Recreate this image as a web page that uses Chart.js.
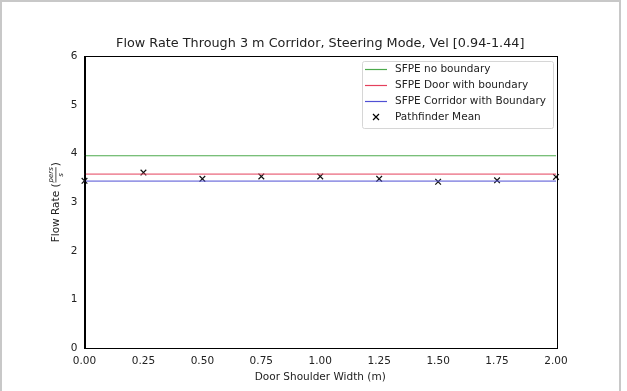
<!DOCTYPE html>
<html>
<head>
<meta charset="utf-8">
<script src="https://cdn.jsdelivr.net/npm/chart.js@4"></script>
<style>
  html, body { margin: 0; padding: 0; background: #fff; }
  #frame { position: absolute; left: 0; top: 0; width: 617px; height: 400px; border: 2px solid #c8c8c8; }
  canvas { position: absolute; left: 0; top: 0; }
</style>
</head>
<body>
<div id="frame"></div>
<canvas id="flowChart" width="627" height="391"></canvas>
<script>
// shoulder widths (m) and measured Pathfinder means (pers/s)
const shoulderWidths = [0.00, 0.25, 0.50, 0.75, 1.00, 1.25, 1.50, 1.75, 2.00];
const pathfinderMean = [3.44, 3.61, 3.48, 3.53, 3.53, 3.48, 3.42, 3.45, 3.52];

// SFPE reference flow rates (constant over the range)
const sfpeNoBoundary = 3.955;
const sfpeDoorBoundary = 3.578;
const sfpeCorridorBoundary = 3.434;

const lineColors = ['#4caa4c', '#e4405c', '#5050d4'];

const xRange = [0, 2];
const yTicks = [0, 1, 2, 3, 4, 5, 6];

const FONT = "'DejaVu Sans', sans-serif";

function flatLine(v) {
    return xRange.map(x => ({ x: x, y: v }));
}

// frame, legend and y label drawn matplotlib style
const legendPlugin = {
    id: 'boxLegend',
    afterDraw(chart) {
        const ctx = chart.ctx;
        const area = chart.chartArea;
        ctx.save();
        // full box round the plot
        ctx.strokeStyle = '#000';
        ctx.lineWidth = 1;
        ctx.strokeRect(Math.round(area.left) + 0.5, Math.round(area.top) + 0.5,
            Math.round(area.right - area.left), Math.round(area.bottom - area.top));

        const bx = 362, by = 61, bw = 191, bh = 67;
        ctx.fillStyle = 'rgba(255,255,255,0.8)';
        ctx.strokeStyle = '#d6d6d6';
        ctx.beginPath();
        ctx.roundRect(bx + 0.5, by + 0.5, bw, bh, 2);
        ctx.fill();
        ctx.stroke();

        ctx.font = '10.5px ' + FONT;
        ctx.textBaseline = 'middle';
        chart.data.datasets.forEach((ds, i) => {
            const y = by + 8 + i * 16;
            if (i === 3) {
                ctx.strokeStyle = '#000';
                ctx.lineWidth = 1.2;
                const cx = 376, s = 3;
                ctx.beginPath();
                ctx.moveTo(cx - s, y - s); ctx.lineTo(cx + s, y + s);
                ctx.moveTo(cx - s, y + s); ctx.lineTo(cx + s, y - s);
                ctx.stroke();
            } else {
                ctx.strokeStyle = lineColors[i];
                ctx.lineWidth = 1.2;
                ctx.beginPath();
                ctx.moveTo(365, Math.round(y) + 0.5);
                ctx.lineTo(387, Math.round(y) + 0.5);
                ctx.stroke();
            }
            ctx.fillStyle = '#222';
            ctx.textAlign = 'left';
            ctx.fillText(ds.label, 395, y);
        });

        // y axis label with the pers/s fraction
        const cx = 56, cy = (area.top + area.bottom) / 2;
        ctx.translate(cx, cy);
        ctx.rotate(-Math.PI / 2);
        ctx.fillStyle = '#222';
        ctx.font = '10.5px ' + FONT;
        const head = 'Flow Rate (';
        const tail = ')';
        const wHead = ctx.measureText(head).width;
        ctx.font = '7px ' + FONT;
        const wFrac = ctx.measureText('pers').width + 2;
        ctx.font = '10.5px ' + FONT;
        const wTail = ctx.measureText(tail).width;
        let x0 = -(wHead + wFrac + wTail) / 2;
        ctx.textAlign = 'left';
        ctx.fillText(head, x0, 0);
        x0 += wHead;
        ctx.font = 'italic 7px ' + FONT;
        ctx.textAlign = 'center';
        ctx.fillText('pers', x0 + wFrac / 2, -5);
        ctx.fillText('s', x0 + wFrac / 2, 5);
        ctx.fillRect(x0 + 1, -0.5, wFrac - 2, 0.8);
        ctx.font = '10.5px ' + FONT;
        ctx.textAlign = 'left';
        ctx.fillText(tail, x0 + wFrac, 0);
        ctx.restore();
    }
};

new Chart(document.getElementById('flowChart'), {
    type: 'line',
    data: {
        datasets: [
            { label: 'SFPE no boundary', data: flatLine(sfpeNoBoundary), borderColor: lineColors[0], borderWidth: 1, pointRadius: 0 },
            { label: 'SFPE Door with boundary', data: flatLine(sfpeDoorBoundary), borderColor: lineColors[1], borderWidth: 1, pointRadius: 0 },
            { label: 'SFPE Corridor with Boundary', data: flatLine(sfpeCorridorBoundary), borderColor: lineColors[2], borderWidth: 1, pointRadius: 0 },
            {
                type: 'scatter',
                label: 'Pathfinder Mean',
                data: shoulderWidths.map((x, i) => ({ x: x, y: pathfinderMean[i] })),
                pointStyle: 'crossRot',
                pointRadius: 4,
                borderColor: '#111',
                borderWidth: 1.2,
                clip: false
            }
        ]
    },
    options: {
        responsive: false,
        animation: false,
        layout: { padding: { left: 0, right: 71, top: 0, bottom: 3 } },
        plugins: {
            legend: { display: false },
            tooltip: { enabled: false },
            title: {
                display: true,
                fullSize: false,
                text: 'Flow Rate Through 3 m Corridor, Steering Mode, Vel [0.94-1.44]',
                color: '#222',
                font: { family: FONT, size: 12.8, weight: 'normal' },
                padding: { top: 36, bottom: 5 }
            }
        },
        scales: {
            x: {
                type: 'linear',
                min: xRange[0],
                max: xRange[1],
                afterFit: s => { s.height = 40; },
                grid: { display: false, drawTicks: true, tickLength: 4, tickColor: '#000' },
                border: { color: '#000' },
                ticks: {
                    stepSize: 0.25,
                    color: '#222',
                    padding: 3,
                    font: { family: FONT, size: 10.5 },
                    callback: v => v.toFixed(2)
                },
                title: {
                    display: true,
                    text: 'Door Shoulder Width (m)',
                    color: '#222',
                    font: { family: FONT, size: 10.5 },
                    padding: { top: 0 }
                }
            },
            y: {
                min: yTicks[0],
                max: yTicks[yTicks.length - 1],
                afterFit: s => { s.width = 84.5; },
                afterBuildTicks: s => { s.ticks = yTicks.map(v => ({ value: v })); },
                grid: { display: false, drawTicks: true, tickLength: 4, tickColor: '#000' },
                border: { color: '#000' },
                ticks: {
                    color: '#222',
                    padding: 3,
                    font: { family: FONT, size: 10.5 }
                }
            }
        }
    },
    plugins: [legendPlugin]
});
</script>
</body>
</html>
